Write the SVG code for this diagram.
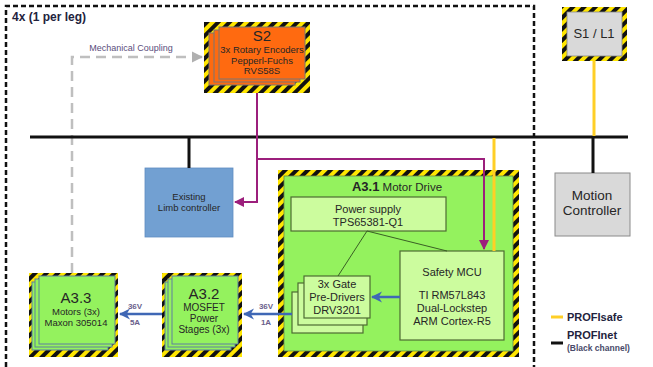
<svg xmlns="http://www.w3.org/2000/svg" width="653" height="367" viewBox="0 0 653 367">
<defs>
<pattern id="haz" patternUnits="userSpaceOnUse" width="8" height="8" patternTransform="rotate(45)">
<rect width="8" height="8" fill="#ffe600"/>
<rect width="4" height="8" fill="#111"/>
</pattern>
<marker id="mag" viewBox="0 0 10 10" refX="9" refY="5" markerWidth="5" markerHeight="5" orient="auto"><path d="M0,0 L10,5 L0,10 z" fill="#9c1f7c"/></marker>
<marker id="blu" viewBox="0 0 10 10" refX="9" refY="5" markerWidth="4.5" markerHeight="4.5" orient="auto"><path d="M0,0 L10,5 L0,10 L3,5 z" fill="#3f67b5"/></marker>
<marker id="gry" viewBox="0 0 10 10" refX="9" refY="5" markerWidth="4.5" markerHeight="4.5" orient="auto"><path d="M0,0 L10,5 L0,10 z" fill="#b0b0b0"/></marker>
</defs>
<style>
text{font-family:"Liberation Sans",Arial,sans-serif;fill:#262626;text-anchor:middle}
.haz{fill:url(#haz)}
.stk{fill:#94f25e;stroke:#5f7fa0;stroke-width:1}
.org{fill:#ff6a10;stroke:#777;stroke-width:1}
.lg{fill:#ccfc9e;stroke:#4d6b33;stroke-width:1.2}
.mag{fill:none;stroke:#9c1f7c;stroke-width:2}
.yel{fill:none;stroke:#ffcf26;stroke-width:3}
.blk{fill:none;stroke:#111;stroke-width:3}
.blue{fill:none;stroke:#3f67b5;stroke-width:2.5}
.lbl{font-size:8px;font-weight:bold;fill:#6a5f8c}
</style>
<rect width="653" height="367" fill="#fff"/>
<g id="boundary">
<path d="M6,367 V6 H534 V367" fill="none" stroke="#111" stroke-width="2.5" stroke-dasharray="5 3"/>
<text x="12" y="21" style="text-anchor:start;font-size:12px;font-weight:bold;fill:#23233d">4x (1 per leg)</text>
</g>
<g id="S2">
<rect x="204" y="22" width="106" height="71" class="haz"/>
<rect x="209" y="33" width="86" height="52" class="org"/>
<rect x="214" y="30" width="86" height="52" class="org"/>
<rect x="219" y="27" width="86" height="52" class="org"/>
<text x="262" y="41" style="font-size:15px">S2</text>
<text x="262" y="53" style="font-size:9.5px">3x Rotary Encoders</text>
<text x="262" y="64" style="font-size:9.5px">Pepperl-Fuchs</text>
<text x="262" y="74" style="font-size:9.5px">RVS58S</text>
</g>
<g id="S1L1">
<rect x="562" y="7" width="65" height="54" class="haz"/>
<rect x="567" y="12" width="55" height="44" fill="#d9d9d9" stroke="#888" stroke-width="0.8"/>
<text x="594" y="38" style="font-size:13px">S1 / L1</text>
</g>
<g id="limb">
<rect x="145" y="168" width="88" height="69" fill="#72a0d2" stroke="#5f8cc0" stroke-width="0.8"/>
<text x="189" y="200" style="font-size:9.5px">Existing</text>
<text x="189" y="211" style="font-size:9.5px">Limb controller</text>
</g>
<g id="motion">
<rect x="555" y="173" width="75" height="63" fill="#d9d9d9" stroke="#8a8a8a" stroke-width="1"/>
<text x="592" y="200" style="font-size:13.5px">Motion</text>
<text x="592" y="215" style="font-size:13.5px">Controller</text>
</g>
<g id="A31">
<rect x="278" y="170" width="241" height="187" class="haz"/>
<rect x="284" y="176" width="229" height="175" fill="#94f25e" stroke="#6a8a4a" stroke-width="0.8"/>
<text x="397" y="191"><tspan style="font-size:13px;font-weight:bold">A3.1</tspan><tspan style="font-size:11.5px"> Motor Drive</tspan></text>
<g id="psu">
<rect x="291" y="197" width="155" height="34" class="lg"/>
<text x="368" y="213" style="font-size:11px">Power supply</text>
<text x="368" y="226" style="font-size:11px">TPS65381-Q1</text>
</g>
<g id="mcu">
<rect x="400" y="251" width="104" height="89" class="lg"/>
<text x="452" y="276" style="font-size:11px">Safety MCU</text>
<text x="452" y="299" style="font-size:11px">TI RM57L843</text>
<text x="452" y="312" style="font-size:11px">Dual-Lockstep</text>
<text x="452" y="325" style="font-size:11px">ARM Cortex-R5</text>
</g>
<g id="gate">
<rect x="292" y="292" width="71" height="41" class="lg"/>
<rect x="298" y="283" width="69" height="42" class="lg"/>
<rect x="304" y="276" width="66" height="42" class="lg"/>
<text x="337" y="288" style="font-size:11px">3x Gate</text>
<text x="337" y="301" style="font-size:11px">Pre-Drivers</text>
<text x="337" y="314" style="font-size:11px">DRV3201</text>
</g>
</g>
<g id="A32">
<rect x="162" y="273" width="80" height="84" class="haz"/>
<rect x="165" y="282" width="66" height="68" class="stk"/>
<rect x="168" y="279" width="67" height="68" class="stk"/>
<rect x="172" y="276" width="66" height="68" class="stk"/>
<text x="204" y="299" style="font-size:15px">A3.2</text>
<text x="204" y="311" style="font-size:10px">MOSFET</text>
<text x="204" y="322" style="font-size:10px">Power</text>
<text x="204" y="333" style="font-size:10px">Stages (3x)</text>
</g>
<g id="A33">
<rect x="29" y="273" width="89" height="84" class="haz"/>
<rect x="32" y="282" width="76" height="68" class="stk"/>
<rect x="35" y="279" width="77" height="68" class="stk"/>
<rect x="39" y="276" width="76" height="68" class="stk"/>
<text x="76" y="303" style="font-size:15px">A3.3</text>
<text x="76" y="315" style="font-size:9.5px">Motors (3x)</text>
<text x="76" y="326" style="font-size:9.5px">Maxon 305014</text>
</g>
<g id="legend">
<line x1="551" y1="317" x2="563" y2="317" class="yel"/>
<text x="567" y="321" style="text-anchor:start;font-size:11px;font-weight:bold;fill:#23233d">PROFIsafe</text>
<line x1="551" y1="343" x2="563" y2="343" class="blk"/>
<text x="567" y="339" style="text-anchor:start;font-size:11px;font-weight:bold;fill:#23233d">PROFInet</text>
<text x="567" y="351" style="text-anchor:start;font-size:8.5px;font-weight:bold;fill:#4a4a6a">(Black channel)</text>
</g>
<g id="connectors">
<path d="M72,273 V57 H202" fill="none" stroke="#bfbfbf" stroke-width="2.5" stroke-dasharray="10 6" marker-end="url(#gry)"/>
<text x="131" y="51" style="font-size:9px;fill:#5a4d7c">Mechanical Coupling</text>
<line x1="30" y1="137" x2="628" y2="137" class="blk"/>
<line x1="189" y1="137" x2="189" y2="168" class="blk"/>
<line x1="593" y1="137" x2="593" y2="173" class="blk"/>
<line x1="594" y1="61" x2="594" y2="136" class="yel"/>
<line x1="494" y1="138" x2="494" y2="251" class="yel"/>
<path d="M257,93 V202 H235" class="mag" marker-end="url(#mag)"/>
<path d="M257,159 H484 V249" class="mag" marker-end="url(#mag)"/>
<line x1="367" y1="231" x2="338" y2="276" stroke="#3a5f25" stroke-width="1"/>
<line x1="367" y1="231" x2="447" y2="251" stroke="#3a5f25" stroke-width="1"/>
<line x1="400" y1="297" x2="372" y2="297" class="blue" marker-end="url(#blu)"/>
<line x1="292" y1="314" x2="244" y2="314" class="blue" marker-end="url(#blu)"/>
<line x1="162" y1="314" x2="120" y2="314" class="blue" marker-end="url(#blu)"/>
<text x="266" y="309" class="lbl">36V</text>
<text x="266" y="325" class="lbl">1A</text>
<text x="135" y="309" class="lbl">36V</text>
<text x="135" y="325" class="lbl">5A</text>
</g>
</svg>
